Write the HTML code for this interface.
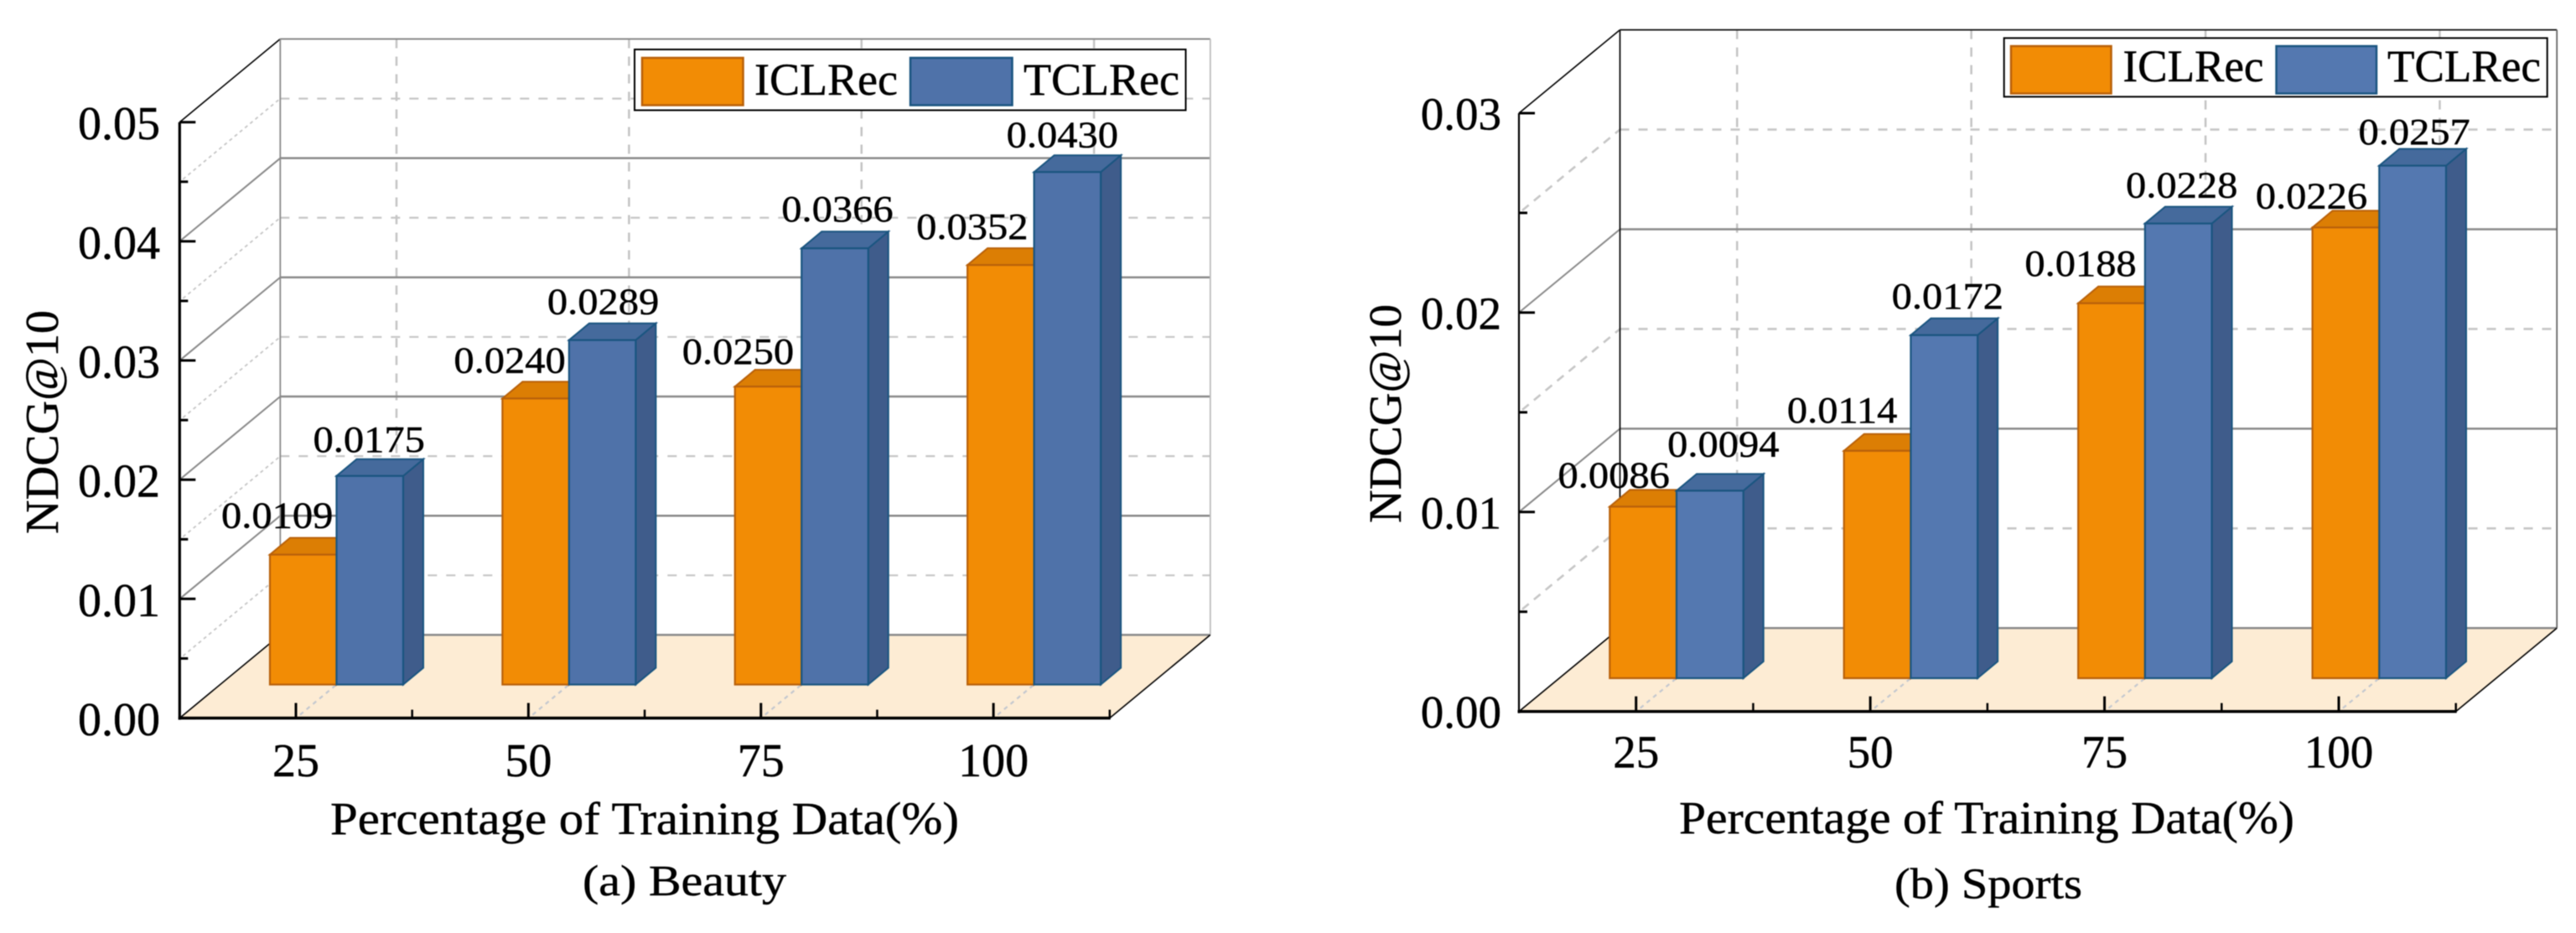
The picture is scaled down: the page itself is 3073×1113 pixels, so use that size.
<!DOCTYPE html>
<html lang="en">
<head>
<meta charset="utf-8">
<title>NDCG@10 vs Percentage of Training Data</title>
<style>
  html, body { margin: 0; padding: 0; background: #fff; }
  body { width: 3073px; height: 1113px; overflow: hidden; }
  svg { display: block; filter: blur(0.5px); }
  text { font-family: "Liberation Serif", "Times New Roman", serif; fill: #000; stroke: #000; stroke-width: 0.45px; }
</style>
</head>
<body>
<svg id="figure" width="3073" height="1113" viewBox="0 0 3073 1113" xmlns="http://www.w3.org/2000/svg">
  <rect x="0" y="0" width="3073" height="1113" fill="#fff"/>

  <g id="chart-beauty"></g>
  <g id="chart-sports"></g>

  <g>
    <rect x="757" y="59" width="657.5" height="72.5" fill="#fff" stroke="#000" stroke-width="2"/>
    <rect x="766" y="69" width="120.5" height="56.5" fill="#f28c05" stroke="#b9610a" stroke-width="2.5"/>
    <text x="900" y="113" font-size="54" textLength="171" lengthAdjust="spacingAndGlyphs">ICLRec</text>
    <rect x="1086" y="69" width="121.5" height="56.5" fill="#4f72a9" stroke="#1a5580" stroke-width="2.5"/>
    <text x="1221" y="113" font-size="54" textLength="186" lengthAdjust="spacingAndGlyphs">TCLRec</text>
  </g>
  <g>
    <rect x="2390.7" y="45.4" width="648" height="70" fill="#fff" stroke="#000" stroke-width="2"/>
    <rect x="2399" y="55" width="119.5" height="56.5" fill="#f28c05" stroke="#b9610a" stroke-width="2.5"/>
    <text x="2532.5" y="97" font-size="54" textLength="168" lengthAdjust="spacingAndGlyphs">ICLRec</text>
    <rect x="2715.5" y="55" width="119.5" height="56.5" fill="#5478b0" stroke="#1a5580" stroke-width="2.5"/>
    <text x="2848" y="97" font-size="54" textLength="183" lengthAdjust="spacingAndGlyphs">TCLRec</text>
  </g>

  <text transform="translate(69 637) rotate(-90)" font-size="56" textLength="267" lengthAdjust="spacingAndGlyphs">NDCG@10</text>
  <text x="394" y="995" font-size="55" textLength="750" lengthAdjust="spacingAndGlyphs">Percentage of Training Data(%)</text>
  <text x="695" y="1068" font-size="52" textLength="243" lengthAdjust="spacingAndGlyphs">(a) Beauty</text>

  <text transform="translate(1671 624) rotate(-90)" font-size="55" textLength="261" lengthAdjust="spacingAndGlyphs">NDCG@10</text>
  <text x="2003" y="994" font-size="55" textLength="734" lengthAdjust="spacingAndGlyphs">Percentage of Training Data(%)</text>
  <text x="2260" y="1071.5" font-size="52" textLength="224" lengthAdjust="spacingAndGlyphs">(b) Sports</text>
</svg>

<script>
// ---------- chart data ----------
const categories = ['25', '50', '75', '100'];
const beautyIclrec = [0.0109, 0.0240, 0.0250, 0.0352];
const beautyTclrec = [0.0175, 0.0289, 0.0366, 0.0430];
const sportsIclrec = [0.0086, 0.0114, 0.0188, 0.0226];
const sportsTclrec = [0.0094, 0.0172, 0.0228, 0.0257];
const beautyYTicks = ['0.00', '0.01', '0.02', '0.03', '0.04', '0.05'];
const sportsYTicks = ['0.00', '0.01', '0.02', '0.03'];

// ---------- hand-placed label nudges relative to each bar's top-centre ----------
const beautyIclrecNudge = [[-31, -32], [-31, -31], [-36, -27], [-34, -31]];
const beautyTclrecNudge = [[-1, -29], [1, -31], [3, -32], [-6, -29.5]];
const sportsIclrecNudge = [[-35, -23], [-42, -34], [-37, -32.5], [-41, -23]];
const sportsTclrecNudge = [[16, -41], [4, -32], [4, -31], [2, -25.5]];

const SVG_NS = 'http://www.w3.org/2000/svg';
function mk(parent, tag, attrs, text) {
  const el = document.createElementNS(SVG_NS, tag);
  for (const k in attrs) el.setAttribute(k, attrs[k]);
  if (text !== undefined) el.textContent = text;
  parent.appendChild(el);
  return el;
}

const ORANGE = { front: '#f28c05', top: '#dc7e04', side: '#dc7e04', edge: '#b9610a' };

function drawChart(root, cfg) {
  const d = cfg.geom;
  const BLUE = { front: d.blue, top: '#456a9c', side: '#3f5c8b', edge: '#1a5580' };
  const yMax = parseFloat(cfg.yTicks[cfg.yTicks.length - 1]);
  const yScale = v => d.y0 - (v / yMax) * (d.y0 - d.yTop);
  const band = (d.x1 - d.x0) / categories.length;
  const xScale = i => d.x0 + band * (i + 0.5);
  const barBase = d.y0 - d.barDepthY;
  const barH = v => (v / yMax) * (d.y0 - d.yTop);
  let el;

  // floor
  el = mk(root, 'polygon', {
    points: [[d.x0, d.y0], [d.x1, d.y0], [d.x1 + d.dx, d.y0 - d.dy], [d.x0 + d.dx, d.y0 - d.dy]].join(' '),
    fill: '#fdecd4'
  });
  
  

  // vertical dashed gridlines on back wall and dotted floor lines
  categories.forEach((c, i) => {
    const x = xScale(i);
    el = mk(root, 'line', {
      x1: x + d.dx, y1: d.yTop - d.dy, x2: x + d.dx, y2: d.y0 - d.dy,
      stroke: '#c4c4c4', 'stroke-width': 2.5, 'stroke-dasharray': '11 10'
    });
    
    
    el = mk(root, 'line', {
      x1: x + 5, y1: d.y0 - 4, x2: x + d.dx, y2: d.y0 - d.dy,
      stroke: '#c4c8cf', 'stroke-width': 2.2, 'stroke-dasharray': '5 5'
    });
    
    
  });

  // horizontal gridlines: majors at tick values, minors halfway between
  cfg.yTicks.forEach((t, i) => {
    const v = parseFloat(t);
    const y = yScale(v);
    const isTop = i === cfg.yTicks.length - 1;
    const isBottom = i === 0;
    el = mk(root, 'line', {
      x1: d.x0 + d.dx, y1: y - d.dy, x2: d.x1 + d.dx, y2: y - d.dy,
      stroke: isTop ? d.topColor : '#8a8a8a', 'stroke-width': isTop ? d.topWidth : 2.5
    });
    
    
    el = mk(root, 'line', {
      x1: d.x0, y1: y, x2: d.x0 + d.dx, y2: y - d.dy,
      stroke: (isTop || isBottom) ? '#000' : '#8a8a8a', 'stroke-width': isTop || isBottom ? 1.6 : 2
    });
    
    
    if (!isTop) {
      const next = parseFloat(cfg.yTicks[i + 1]);
      const ym = yScale((v + next) / 2);
      el = mk(root, 'line', {
        x1: d.x0 + d.dx, y1: ym - d.dy, x2: d.x1 + d.dx, y2: ym - d.dy,
        stroke: '#c6c6c6', 'stroke-width': d.minorWidth, 'stroke-dasharray': '11 11'
      });
      
      
      el = mk(root, 'line', {
        x1: d.x0 + 4, y1: ym - 3, x2: d.x0 + d.dx, y2: ym - d.dy,
        stroke: '#c6c6c6', 'stroke-width': d.sideMinorWidth, 'stroke-dasharray': d.sideDash
      });
      
      
      // minor tick
      el = mk(root, 'line', {
        x1: d.x0, y1: ym, x2: d.x0 + 10, y2: ym, stroke: '#000', 'stroke-width': 3
      });
      
      
    }
  });

  // back wall frame
  el = mk(root, 'line', {
    x1: d.x0 + d.dx, y1: d.yTop - d.dy, x2: d.x0 + d.dx, y2: d.y0 - d.dy,
    stroke: d.backLeftColor, 'stroke-width': 1.8
  });
  
  
  el = mk(root, 'line', {
    x1: d.x1 + d.dx, y1: d.yTop - d.dy, x2: d.x1 + d.dx, y2: d.y0 - d.dy,
    stroke: d.backRightColor, 'stroke-width': 1.8
  });
  
  
  el = mk(root, 'line', {
    x1: d.x1, y1: d.y0, x2: d.x1 + d.dx, y2: d.y0 - d.dy, stroke: '#000', 'stroke-width': 1.6
  });
  
  

  // bars: ICLRec then TCLRec on top
  function bar(seriesName, colors, left, v) {
    const top = barBase - barH(v);
    const right = left + d.barW;
    const sx = d.barDx, sy = d.barDy;
    let p;
    p = mk(root, 'polygon', {
      points: [[right, barBase], [right + sx, barBase - sy], [right + sx, top - sy], [right, top]].join(' '),
      fill: colors.side, stroke: colors.edge, 'stroke-width': 2
    });
    
    
    p = mk(root, 'polygon', {
      points: [[left, top], [left + sx, top - sy], [right + sx, top - sy], [right, top]].join(' '),
      fill: colors.top, stroke: colors.edge, 'stroke-width': 2
    });
    
    
    p = mk(root, 'rect', {
      x: left, y: top, width: d.barW, height: barH(v),
      fill: colors.front, stroke: colors.edge, 'stroke-width': 2.2
    });
    
    
  }
  categories.forEach((c, i) => {
    const mid = xScale(i) + d.barDepthX;
    bar('iclrec-' + c, ORANGE, mid - d.barW, cfg.iclrec[i]);
    bar('tclrec-' + c, BLUE, mid, cfg.tclrec[i]);
  });

  // axes
  el = mk(root, 'line', {
    x1: d.x0, y1: d.yTop, x2: d.x0, y2: d.y0 + 2, stroke: '#000', 'stroke-width': d.axisWidth
  });
  
  
  el = mk(root, 'line', {
    x1: d.x0 - 1.5, y1: d.y0, x2: d.x1 + 1, y2: d.y0, stroke: '#000', 'stroke-width': 3.5
  });
  
  

  // y ticks + labels
  cfg.yTicks.forEach(t => {
    const y = yScale(parseFloat(t));
    let tk = mk(root, 'line', {
      x1: d.x0, y1: y, x2: d.x0 + 19, y2: y, stroke: '#000', 'stroke-width': 3
    });
    
    
    tk = mk(root, 'text', {
      x: d.yLabelX, y: y + d.yLabelDy, 'font-size': d.tickFont, 'text-anchor': 'end'
    }, t);
    
    
  });

  // x ticks + labels
  categories.forEach((c, i) => {
    const x = xScale(i);
    let tk = mk(root, 'line', {
      x1: x, y1: d.y0, x2: x, y2: d.y0 - 18, stroke: '#000', 'stroke-width': 3
    });
    
    
    tk = mk(root, 'line', {
      x1: x + band / 2, y1: d.y0, x2: x + band / 2, y2: d.y0 - 10, stroke: '#000', 'stroke-width': 2.5
    });
    
    
    tk = mk(root, 'text', {
      x: x, y: d.xLabelY, 'font-size': d.tickFont, 'text-anchor': 'middle'
    }, c);
    
    
  });

  // value labels
  function valueLabel(v, cx, nudge) {
    const top = barBase - barH(v);
    const t = mk(root, 'text', {
      transform: 'translate(' + (cx + nudge[0]) + ' ' + (top + nudge[1]) + ') scale(1.09 1)',
      'font-size': 44.5, 'text-anchor': 'middle'
    }, v.toFixed(4));
    
    
  }
  categories.forEach((c, i) => {
    const mid = xScale(i) + d.barDepthX;
    valueLabel(cfg.iclrec[i], mid - d.barW / 2, cfg.iclrecNudge[i]);
    valueLabel(cfg.tclrec[i], mid + d.barW / 2, cfg.tclrecNudge[i]);
  });
}

drawChart(document.getElementById('chart-beauty'), {
  iclrec: beautyIclrec, tclrec: beautyTclrec, yTicks: beautyYTicks,
  iclrecNudge: beautyIclrecNudge, tclrecNudge: beautyTclrecNudge,
  geom: {
    x0: 214.3, x1: 1323.8, y0: 856.6, yTop: 145.7, dx: 120, dy: 99.2,
    barW: 79.5, barDx: 24, barDy: 20, barDepthX: 48.5, barDepthY: 40,
    blue: '#4f72a9', axisWidth: 3.2, topColor: '#8a8a8a', topWidth: 2,
    backLeftColor: '#8a8a8a', backRightColor: '#bdbdbd',
    minorWidth: 2.2, sideMinorWidth: 1.8, sideDash: '4 4',
    yLabelX: 191, yLabelDy: 20.5, xLabelY: 926, tickFont: 56
  }
});
drawChart(document.getElementById('chart-sports'), {
  iclrec: sportsIclrec, tclrec: sportsTclrec, yTicks: sportsYTicks,
  iclrecNudge: sportsIclrecNudge, tclrecNudge: sportsTclrecNudge,
  geom: {
    x0: 1812, x1: 2929.7, y0: 848.7, yTop: 135, dx: 120.5, dy: 99.4,
    barW: 79.7, barDx: 24, barDy: 20, barDepthX: 48.3, barDepthY: 39.7,
    blue: '#5478b0', axisWidth: 2.2, topColor: '#111', topWidth: 1.8,
    backLeftColor: '#111', backRightColor: '#666',
    minorWidth: 2.6, sideMinorWidth: 2.6, sideDash: '10 8',
    yLabelX: 1791, yLabelDy: 19.5, xLabelY: 915.5, tickFont: 55
  }
});
</script>
</body>
</html>
